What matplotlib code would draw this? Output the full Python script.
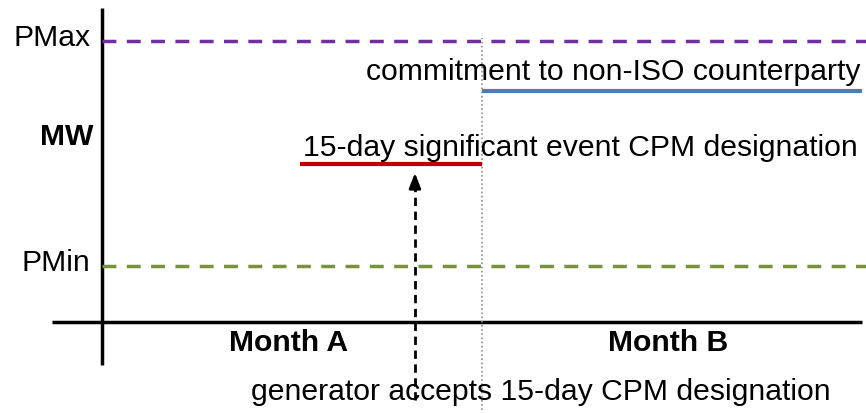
import matplotlib
matplotlib.use('Agg')
from matplotlib import pyplot as plt

plt.rcParams['font.family'] = ['Liberation Sans', 'DejaVu Sans']

# time axis in days, power axis in MW (schematic)
month_labels = ['Month A', 'Month B']
month_edges = [0, 30, 60]
pmin = 50
pmax = 250
cpm_start, cpm_end, cpm_level = 15.6, 30, 140     # 15-day significant event designation
bilat_start, bilat_end, bilat_level = 30, 60, 205  # non-ISO commitment
accept_day = 24.7

fs = 21.7

fig = plt.figure(figsize=(8.66, 4.13), dpi=100)
ax = fig.add_axes([0, 0, 1, 1])
ax.set_xlim(-8.05, 60.3)
ax.set_ylim(-80.9, 286.2)
ax.axis('off')

# axes lines
ax.plot([-3.95, 60], [0, 0], color='black', lw=2.5, solid_capstyle='butt')
ax.plot([0, 0], [-38, 279], color='black', lw=2.5, solid_capstyle='butt')

# PMax / PMin
ax.plot([0, 60.3], [pmax, pmax], color='#7030A0', lw=2.5, ls=(0, (4, 3)))
ax.plot([0, 60.3], [pmin, pmin], color='#77933C', lw=2.5, ls=(0, (4, 3)))
ax.text(-0.9, pmax + 2, 'PMax', ha='right', va='center', fontsize=fs)
ax.text(-0.9, pmin + 2, 'PMin', ha='right', va='center', fontsize=fs)
ax.text(-2.75, 164, 'MW', ha='center', va='center', fontsize=fs, fontweight='bold')

# month boundary
ax.plot([month_edges[1], month_edges[1]], [-78, 252], color='#909090', lw=1.2, ls=(0, (1, 1.5)))

# months
for i, lab in enumerate(month_labels):
    mid = (month_edges[i] + month_edges[i + 1]) / 2
    ax.text(mid - 0.3, -19, lab, ha='center', va='center', fontsize=fs, fontweight='bold')

# commitments
ax.plot([cpm_start, cpm_end], [cpm_level, cpm_level], color='#C00000', lw=3.0, solid_capstyle='butt')
ax.plot([bilat_start, bilat_end], [bilat_level, bilat_level], color='#4A7EBB', lw=3.0, solid_capstyle='butt')
ax.text(bilat_end - 0.15, 222, 'commitment to non-ISO counterparty', ha='right', va='center', fontsize=fs)
ax.text(15.85, 155, '15-day significant event CPM designation', ha='left', va='center', fontsize=fs)

# acceptance arrow
ax.plot([accept_day, accept_day], [-69, 120], color='black', lw=2, ls=(0, (3, 2)))
ax.annotate('', xy=(accept_day, cpm_level - 5), xytext=(accept_day, 118),
            arrowprops=dict(arrowstyle='-|>,head_width=0.35,head_length=0.9', color='black', lw=2))
ax.text(34.6, -62, 'generator accepts 15-day CPM designation', ha='center', va='center', fontsize=fs)

fig.savefig('out.png', dpi=100)
